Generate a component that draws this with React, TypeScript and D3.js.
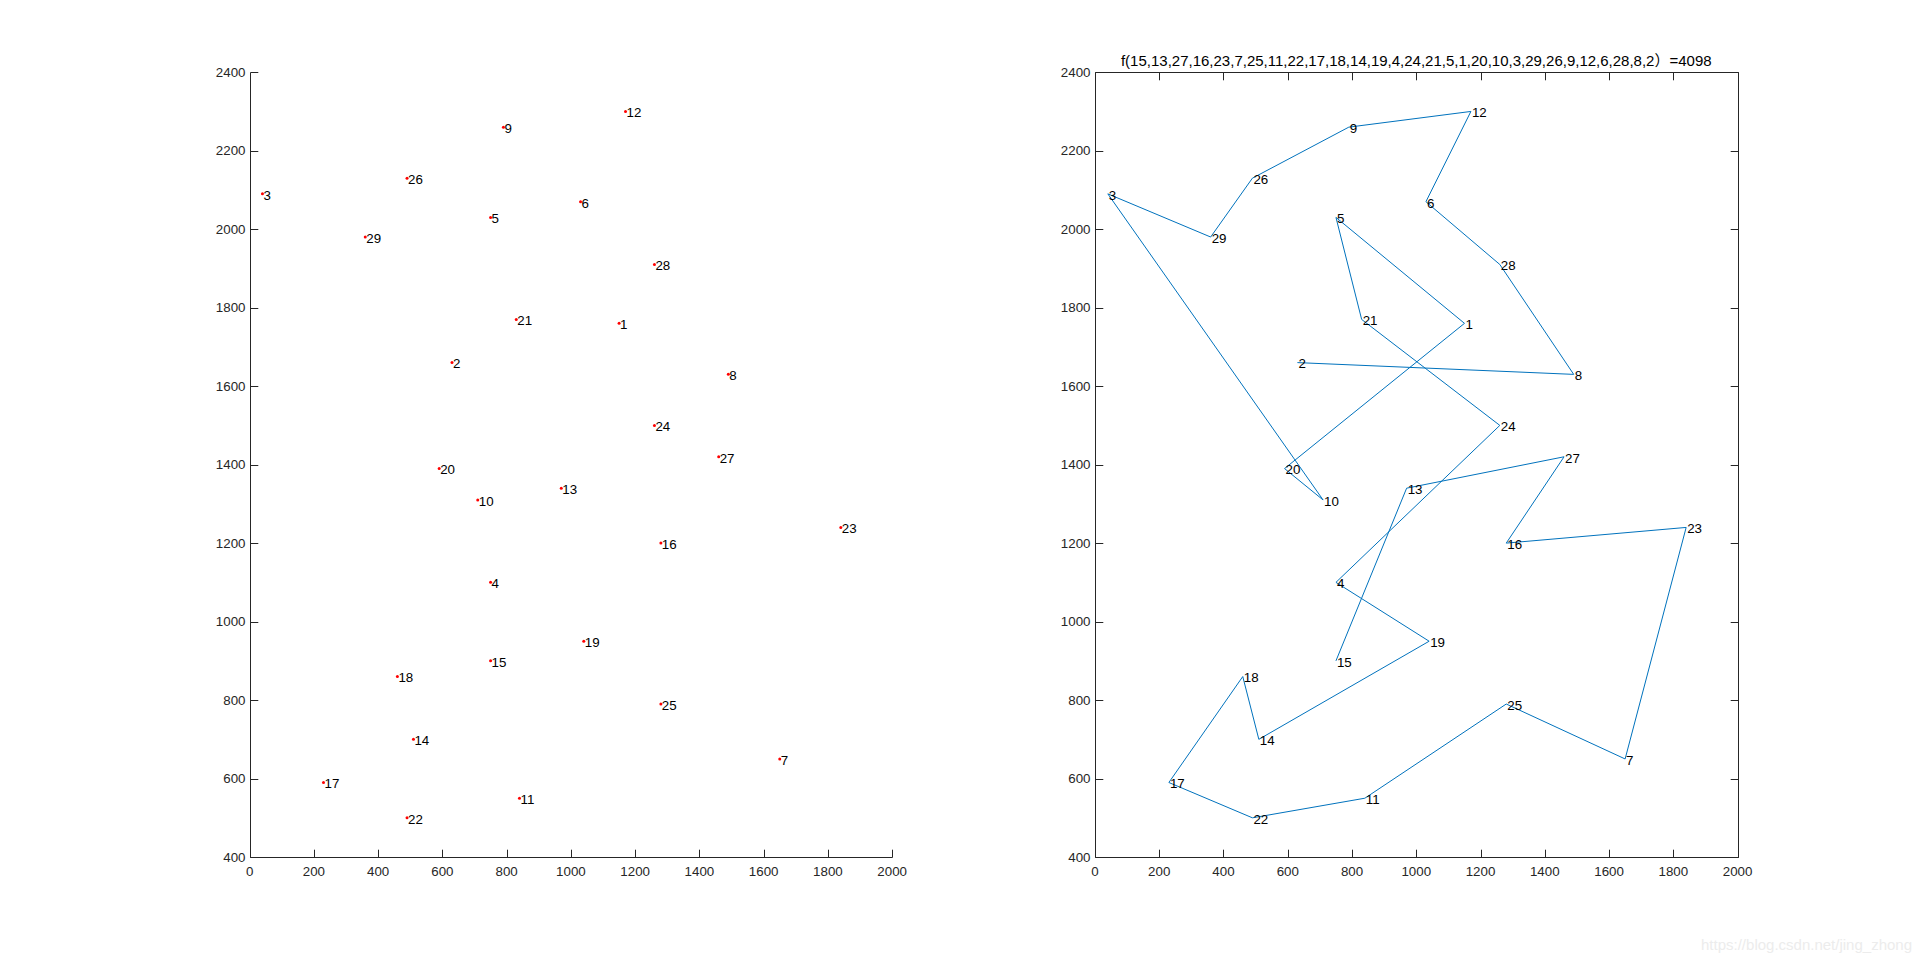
import React from "react";
import * as d3 from "d3";

const cityX = [1150, 630, 40, 750, 750, 1030, 1650, 1490, 790, 710, 840, 1170, 970, 510, 750, 1280, 230, 460, 1040, 590, 830, 490, 1840, 1260, 1280, 490, 1460, 1260, 360];
const cityY = [1760, 1660, 2090, 1100, 2030, 2070, 650, 1630, 2260, 1310, 550, 2300, 1340, 700, 900, 1200, 590, 860, 950, 1390, 1770, 500, 1240, 1500, 790, 2130, 1420, 1910, 1980];
const route = [15, 13, 27, 16, 23, 7, 25, 11, 22, 17, 18, 14, 19, 4, 24, 21, 5, 1, 20, 10, 3, 29, 26, 9, 12, 6, 28, 8, 2];
const routeLength = 4098;
const xTicks = [0, 200, 400, 600, 800, 1000, 1200, 1400, 1600, 1800, 2000];
const yTicks = [400, 600, 800, 1000, 1200, 1400, 1600, 1800, 2000, 2200, 2400];

const W = 1920;
const H = 963;
const TOP = 72.2;
const BOTTOM = 857.07;
const AX_W = 642.6;
const FONT = "'Liberation Sans', Arial, Helvetica, sans-serif";
const AXIS_COLOR = "#262626";
const TICK = 7.8;

const cities = cityX.map((x, i) => ({ id: i + 1, x, y: cityY[i] }));

function Axes({ left, box, children }: { left: number; box: boolean; children: (x: d3.ScaleLinear<number, number>, y: d3.ScaleLinear<number, number>) => React.ReactNode }) {
  const x = d3.scaleLinear().domain([0, 2000]).range([left, left + AX_W]);
  const y = d3.scaleLinear().domain([400, 2400]).range([BOTTOM, TOP]);
  const L = Math.round(x(0)) + 0.5;
  const R = Math.round(x(2000)) + 0.5;
  const T = Math.round(y(2400)) + 0.5;
  const B = Math.round(y(400)) + 0.5;
  return (
    <g>
      {children(x, y)}
      <g stroke={AXIS_COLOR} strokeWidth={1} fill="none">
        <line x1={L} x2={L} y1={T} y2={B} />
        <line x1={L} x2={R} y1={B} y2={B} />
        {box && <line x1={R} x2={R} y1={T} y2={B} />}
        {box && <line x1={L} x2={R} y1={T} y2={T} />}
        {xTicks.map((t) => {
          const px = Math.round(x(t)) + 0.5;
          return (
            <g key={"xt" + t}>
              <line x1={px} x2={px} y1={B} y2={B - TICK} />
              {box && <line x1={px} x2={px} y1={T} y2={T + TICK} />}
            </g>
          );
        })}
        {yTicks.map((t) => {
          const py = Math.round(y(t)) + 0.5;
          return (
            <g key={"yt" + t}>
              <line x1={L} x2={L + TICK} y1={py} y2={py} />
              {box && <line x1={R} x2={R - TICK} y1={py} y2={py} />}
            </g>
          );
        })}
      </g>
      <g fill={AXIS_COLOR} fontFamily={FONT} fontSize={13.33}>
        {xTicks.map((t) => (
          <text key={"xl" + t} x={x(t)} y={B + 18} textAnchor="middle">
            {t}
          </text>
        ))}
        {yTicks.map((t) => (
          <text key={"yl" + t} x={L - 5} y={y(t) + 4.7} textAnchor="end">
            {t}
          </text>
        ))}
      </g>
    </g>
  );
}

export default function App() {
  const leftX = 0.13 * W;
  const rightX = 0.5703 * W;
  return (
    <svg width={W} height={H} style={{ position: "absolute", left: 0, top: 0, background: "#fff" }}>
      <rect x={0} y={0} width={W} height={H} fill="#fff" />
      <Axes left={leftX} box={false}>
        {(x, y) => (
          <g>
            {cities.map((c) => (
              <g key={c.id}>
                <circle cx={x(c.x)} cy={y(c.y)} r={1.5} fill="#ff0000" />
                <text x={x(c.x) + 1} y={y(c.y) + 5.8} fontFamily={FONT} fontSize={13.33} fill="#000">
                  {c.id}
                </text>
              </g>
            ))}
          </g>
        )}
      </Axes>
      <Axes left={rightX} box={true}>
        {(x, y) => {
          const line = d3
            .line<number>()
            .x((id) => x(cityX[id - 1]))
            .y((id) => y(cityY[id - 1]));
          return (
            <g>
              <path d={line(route) || ""} fill="none" stroke="#0072BD" strokeWidth={1} />
              {cities.map((c) => (
                <text key={c.id} x={x(c.x) + 1} y={y(c.y) + 5.8} fontFamily={FONT} fontSize={13.33} fill="#000">
                  {c.id}
                </text>
              ))}
            </g>
          );
        }}
      </Axes>
      <text
        x={rightX + AX_W / 2}
        y={65.5}
        textAnchor="middle"
        fontFamily={FONT + ", 'Noto Sans CJK SC'"}
        fontSize={15}
        fill="#000"
      >
        {"f(" + route.join(",") + "）=" + routeLength}
      </text>
      <text x={1912} y={950} textAnchor="end" fontFamily={FONT} fontSize={15} fill="#ececec">
        https://blog.csdn.net/jing_zhong
      </text>
    </svg>
  );
}
